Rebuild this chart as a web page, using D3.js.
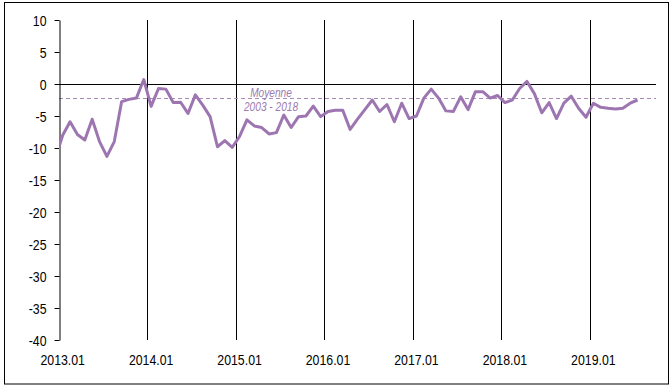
<!DOCTYPE html>
<html>
<head>
<meta charset="utf-8">
<script src="https://cdn.jsdelivr.net/npm/d3@7"></script>
<style>
  html, body { margin: 0; padding: 0; background: #fff; }
  svg { display: block; }
  .lbl { font-family: "Liberation Sans", Arial, sans-serif; }
</style>
</head>
<body>
<svg id="chart" width="672" height="390"></svg>
<script>
// ---- data ----
const categories = [];
for (let yr = 2013; yr <= 2019; yr++) {
  for (let m = 1; m <= 12; m++) {
    if (yr === 2019 && m > 9) break;
    categories.push(yr + "." + String(m).padStart(2, "0"));
  }
}
// 2012.12 value (only visible as a short clipped segment at the left edge)
const priorValue = -11.6;
const values = [
  -8.0, -5.9, -7.9, -8.75, -5.5, -9.0, -11.3, -9.0, -2.75, -2.4, -2.2, 0.7,
  -3.5, -0.7, -0.8, -2.9, -2.85, -4.6, -1.7, -3.3, -5.1, -9.8, -8.85, -9.9,
  -8.2, -5.6, -6.55, -6.8, -7.8, -7.6, -4.85, -6.8, -5.1, -5.0, -3.45, -5.1,
  -4.3, -4.1, -4.1, -7.1, -5.5, -4.0, -2.5, -4.3, -3.2, -5.9, -3.0, -5.4,
  -5.0, -2.2, -0.8, -2.2, -4.2, -4.3, -2.0, -4.0, -1.2, -1.2, -2.2, -1.8,
  -2.9, -2.5, -0.7, 0.4, -1.5, -4.5, -2.9, -5.4, -3.0, -1.9, -3.8, -5.2,
  -3.0, -3.65, -3.8, -3.9, -3.8, -3.0, -2.5
];
const averageValue = -2.2;
const averageLabel = ["Moyenne", "2003 - 2018"];
const yTicks = [10, 5, 0, -5, -10, -15, -20, -25, -30, -35, -40];
const yearLabels = ["2013.01", "2014.01", "2015.01", "2016.01", "2017.01", "2018.01", "2019.01"];

(function () {
  const svg = d3.select("#chart");
  const pL = 59, pR = 656, pT = 20, pB = 340;
  const lineColor = "#9d76b1";
  const sx = 0.85;

  svg.append("rect").attr("x", 4.5).attr("y", 2.5).attr("width", 664).attr("height", 381.5)
    .attr("fill", "#fff").attr("stroke", "#000").attr("stroke-width", 1);

  const x = d3.scaleBand().domain(categories).range([pL, pR]).paddingInner(0).paddingOuter(0);
  const bw = x.bandwidth();
  const cx = c => x(c) + bw / 2;
  const y = d3.scaleLinear().domain([-40, 10]).range([pB, pT]);

  // vertical year gridlines
  svg.append("g").selectAll("line")
    .data(yearLabels.slice(1))
    .join("line")
    .attr("x1", d => Math.round(x(d)) + 0.5).attr("x2", d => Math.round(x(d)) + 0.5)
    .attr("y1", pT).attr("y2", pB)
    .attr("stroke", "#000").attr("stroke-width", 1);

  // zero line
  svg.append("line")
    .attr("x1", pL).attr("x2", pR)
    .attr("y1", Math.round(y(0)) + 0.5).attr("y2", Math.round(y(0)) + 0.5)
    .attr("stroke", "#000").attr("stroke-width", 1);

  // average dashed line
  svg.append("line")
    .attr("x1", pL).attr("x2", pR)
    .attr("y1", Math.round(y(averageValue)) + 0.5).attr("y2", Math.round(y(averageValue)) + 0.5)
    .attr("stroke", "#a98bb8").attr("stroke-width", 1).attr("stroke-dasharray", "4,3");

  // y axis
  const yAxis = d3.axisLeft(y).tickValues(yTicks).tickSize(5).tickSizeOuter(0).tickPadding(0)
    .tickFormat(d => String(d));
  const gy = svg.append("g").attr("transform", `translate(${pL + 0.5},0)`).call(yAxis);
  gy.attr("font-family", null).attr("font-size", null);
  gy.select(".domain").attr("stroke", "#000");
  gy.selectAll(".tick line").attr("stroke", "#000");
  gy.selectAll(".tick text")
    .attr("class", "lbl").attr("font-size", 14.5).attr("fill", "#000")
    .attr("x", null).attr("dy", "0.35em")
    .attr("transform", `translate(-13,0) scale(${sx},1)`);

  // x labels
  svg.append("g").selectAll("text")
    .data(yearLabels)
    .join("text")
    .attr("class", "lbl")
    .attr("transform", d => `translate(${cx(d)},365) scale(${sx},1)`)
    .attr("text-anchor", "middle").attr("font-size", 14.5).attr("fill", "#000")
    .text(d => d);

  // clip for series
  svg.append("clipPath").attr("id", "plotclip")
    .append("rect").attr("x", pL).attr("y", 0).attr("width", pR - pL).attr("height", 390);

  const pts = [[cx(categories[0]) - bw, y(priorValue)]]
    .concat(values.map((v, i) => [cx(categories[i]), y(v)]));
  svg.append("path")
    .attr("clip-path", "url(#plotclip)")
    .attr("d", d3.line()(pts))
    .attr("fill", "none").attr("stroke", lineColor).attr("stroke-width", 3)
    .attr("stroke-linejoin", "round");

  // average label
  svg.append("g").selectAll("text")
    .data(averageLabel)
    .join("text")
    .attr("class", "lbl")
    .attr("transform", (d, i) => `translate(271,${97 + i * 14}) scale(0.78,1)`)
    .attr("text-anchor", "middle")
    .attr("font-size", 13).attr("font-style", "italic").attr("fill", "#9c7bb0")
    .text(d => d);
})();
</script>
</body>
</html>
